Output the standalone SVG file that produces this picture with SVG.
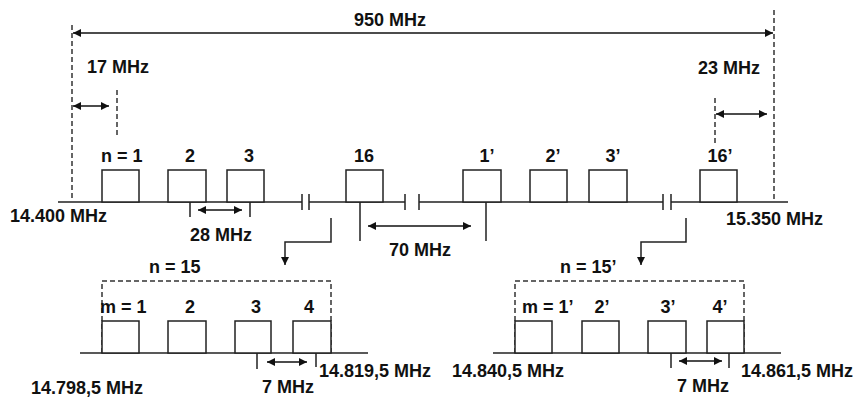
<svg xmlns="http://www.w3.org/2000/svg" width="858" height="398" viewBox="0 0 858 398">
<defs>
<marker id="ah" viewBox="0 0 10 10" refX="10" refY="5" markerWidth="9" markerHeight="8" markerUnits="userSpaceOnUse" orient="auto-start-reverse">
<path d="M0,0 L10,5 L0,10 z" fill="#111"/>
</marker>
<style>
text{font-family:"Liberation Sans",Arial,sans-serif;font-weight:bold;font-size:18px;fill:#111}
.ln{stroke:#222;stroke-width:1.5;fill:none}
.bx{stroke:#222;stroke-width:1.5;fill:#fff}
.ds{stroke:#333;stroke-width:1.5;fill:none;stroke-dasharray:5,3}
.ar{stroke:#111;stroke-width:1.5;fill:none;marker-start:url(#ah);marker-end:url(#ah)}
.c{text-anchor:middle}
</style>
</defs>
<rect width="858" height="398" fill="#fff"/>

<g id="connectors">
<!-- span dashed boundaries -->
<line class="ds" x1="72" y1="25" x2="72" y2="200"/>
<line class="ds" x1="774" y1="10" x2="774" y2="202"/>
<line class="ar" x1="73" y1="33" x2="773" y2="33"/>
<line class="ds" x1="117" y1="90" x2="117" y2="137"/>
<line class="ar" x1="73" y1="106" x2="109" y2="106"/>
<line class="ds" x1="715" y1="98" x2="715" y2="145"/>
<line class="ar" x1="716" y1="114" x2="767" y2="114"/>
<!-- main axis with breaks -->
<path class="ln" d="M58,202 H302 M309,202 H405 M419,202 H663 M671,202 H788"/>
<path class="ln" d="M302,194 V210 M309,194 V210 M405,194 V210 M419,194 V210 M663,194 V210 M671,194 V210"/>
<!-- 28 MHz -->
<path class="ln" d="M190,202 V217 M250,202 V217"/>
<line class="ar" x1="198" y1="210" x2="242" y2="210"/>
<!-- 70 MHz -->
<path class="ln" d="M360,202 V241 M486,202 V241"/>
<line class="ar" x1="368" y1="226" x2="471" y2="226"/>
<!-- expansion connectors -->
<path class="ln" d="M331,218 V242 H285 V265" marker-end="url(#ah)"/>
<path class="ln" d="M686,218 V242 H641 V265" marker-end="url(#ah)"/>
<!-- lower left -->
<path class="ln" d="M80,353 H368"/>
<path class="ds" d="M102,353 V281 H331 V353"/>
<path class="ln" d="M257,353 V369 M316,353 V367"/>
<line class="ar" x1="267" y1="362" x2="307" y2="362"/>
<!-- lower right -->
<path class="ln" d="M493,353 H781"/>
<path class="ds" d="M515,353 V281 H744 V353"/>
<path class="ln" d="M671,353 V368 M729,353 V368"/>
<line class="ar" x1="679" y1="361" x2="722" y2="361"/>
</g>

<g id="n1"><rect class="bx" x="102" y="170" width="37" height="32"/><text x="101" y="162">n = 1</text></g>
<g id="n2"><rect class="bx" x="168" y="170" width="38" height="32"/><text class="c" x="190" y="162">2</text></g>
<g id="n3"><rect class="bx" x="227" y="170" width="37" height="32"/><text class="c" x="249" y="162">3</text></g>
<g id="n16"><rect class="bx" x="346" y="170" width="37" height="32"/><text class="c" x="364" y="162">16</text></g>
<g id="n1p"><rect class="bx" x="463" y="170" width="38" height="32"/><text class="c" x="487" y="162">1’</text></g>
<g id="n2p"><rect class="bx" x="530" y="170" width="37" height="32"/><text class="c" x="553" y="162">2’</text></g>
<g id="n3p"><rect class="bx" x="589" y="170" width="38" height="32"/><text class="c" x="613" y="162">3’</text></g>
<g id="n16p"><rect class="bx" x="700" y="170" width="37" height="32"/><text class="c" x="720" y="162">16’</text></g>

<g id="m1"><rect class="bx" x="102" y="321" width="37" height="32"/><text x="100" y="313">m = 1</text></g>
<g id="m2"><rect class="bx" x="168" y="321" width="38" height="32"/><text class="c" x="190" y="313">2</text></g>
<g id="m3"><rect class="bx" x="235" y="321" width="36" height="32"/><text class="c" x="256" y="313">3</text></g>
<g id="m4"><rect class="bx" x="293" y="321" width="38" height="32"/><text class="c" x="309" y="313">4</text></g>

<g id="m1p"><rect class="bx" x="515" y="321" width="37" height="32"/><text x="522" y="313">m = 1’</text></g>
<g id="m2p"><rect class="bx" x="582" y="321" width="37" height="32"/><text class="c" x="602" y="313">2’</text></g>
<g id="m3p"><rect class="bx" x="648" y="321" width="38" height="32"/><text class="c" x="668" y="313">3’</text></g>
<g id="m4p"><rect class="bx" x="707" y="321" width="37" height="32"/><text class="c" x="720" y="313">4’</text></g>

<g id="labels">
<text class="c" x="390" y="26">950 MHz</text>
<text x="87" y="73">17 MHz</text>
<text x="698" y="74">23 MHz</text>
<text x="10" y="222">14.400 MHz</text>
<text x="726" y="225">15.350 MHz</text>
<text x="190" y="241">28 MHz</text>
<text x="389" y="256">70 MHz</text>
<text x="149" y="273">n = 15</text>
<text x="560" y="273">n = 15’</text>
<text x="262" y="393">7 MHz</text>
<text x="677" y="392">7 MHz</text>
<text x="319" y="377">14.819,5 MHz</text>
<text x="31" y="394">14.798,5 MHz</text>
<text x="452" y="377">14.840,5 MHz</text>
<text x="741" y="377">14.861,5 MHz</text>
</g>
</svg>
